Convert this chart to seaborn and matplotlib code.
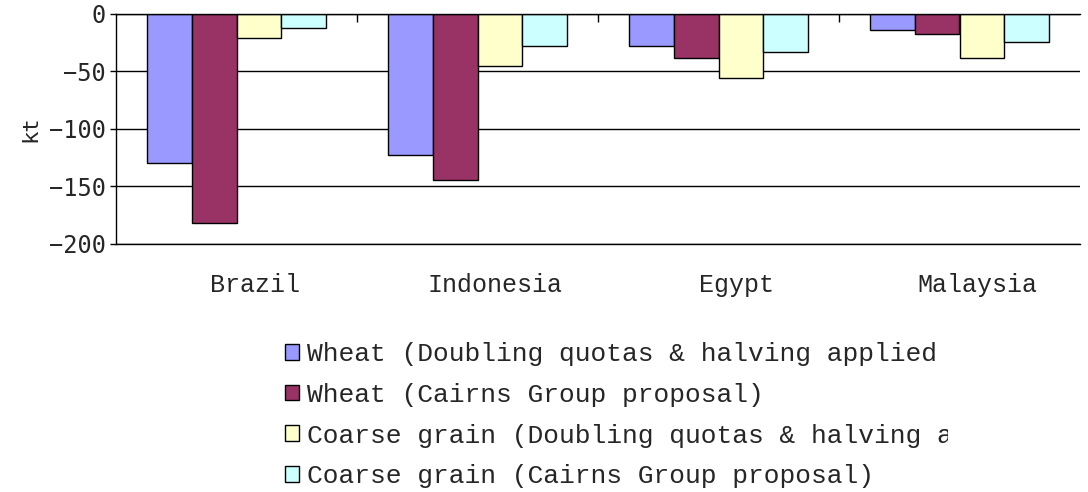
import matplotlib
matplotlib.use("Agg")
import matplotlib.pyplot as plt
import matplotlib.transforms as mtransforms
from matplotlib.ticker import FixedLocator
import seaborn as sns
import pandas as pd

# data (kt)
countries = ["Brazil", "Indonesia", "Egypt", "Malaysia"]
series = [
    "Wheat (Doubling quotas & halving applied tariffs)",
    "Wheat (Cairns Group proposal)",
    "Coarse grain (Doubling quotas & halving applied tariffs)",
    "Coarse grain (Cairns Group proposal)",
]
wheat_doubling = [-130, -123, -28, -14]
wheat_cairns = [-181.5, -144, -38.5, -17.5]
coarse_doubling = [-21, -45, -55.5, -38.5]
coarse_cairns = [-12.5, -28, -33, -24.5]
colors = ["#9999FF", "#993366", "#FFFFCC", "#CCFFFF"]

rows = []
for s, vals in zip(series, [wheat_doubling, wheat_cairns, coarse_doubling, coarse_cairns]):
    for c, v in zip(countries, vals):
        rows.append({"country": c, "series": s, "value": v})
df = pd.DataFrame(rows)

sns.set_style("white")
plt.rcParams["font.family"] = ["Liberation Mono", "DejaVu Sans Mono"]

fig = plt.figure(figsize=(10.88, 4.92), dpi=100)
ax = fig.add_axes([116 / 1088, 1 - 244 / 492, (1080 - 116) / 1088, (244 - 14) / 492])

sns.barplot(data=df, x="country", y="value", hue="series", order=countries,
            hue_order=series, palette=colors, width=0.74, edgecolor="black",
            linewidth=1, saturation=1, ax=ax)

ax.set_ylim(-200, 0)
ax.set_xlim(-0.5, 3.5)
ax.set_yticks([0, -50, -100, -150, -200])
ax.yaxis.grid(True, color="black", linewidth=1)
ax.set_axisbelow(True)
for side in ["top", "left", "bottom"]:
    ax.spines[side].set_visible(True)
    ax.spines[side].set_color("black")
    ax.spines[side].set_linewidth(1)
ax.spines["right"].set_visible(False)

ax.set_xlabel("")
ax.set_ylabel("kt", fontsize=16, family="DejaVu Sans Mono", labelpad=6)
ax.tick_params(axis="y", direction="out", length=4.5, width=1, color="black", pad=3,
               labelsize=17, left=True)
for t in ax.get_yticklabels():
    t.set_family("DejaVu Sans Mono")

# category labels below, boundary ticks hanging from the zero line
ax.tick_params(axis="x", which="major", length=0, pad=21, labelsize=18, bottom=True)
ax.xaxis.set_minor_locator(FixedLocator([0.5, 1.5, 2.5]))
ax.tick_params(axis="x", which="minor", top=True, bottom=False, direction="in",
               length=6, width=1, color="black")
offset = mtransforms.ScaledTranslation(18 / 100, 0, fig.dpi_scale_trans)
for t in ax.get_xticklabels():
    t.set_transform(t.get_transform() + offset)

handles, labels = ax.get_legend_handles_labels()
ax.get_legend().remove()
leg = fig.legend(handles, labels, loc="upper left",
                 bbox_to_anchor=(285 / 1088, 1 - 342 / 492), frameon=False,
                 fontsize=18.9, handlelength=0.54, handleheight=0.54,
                 handletextpad=0.3, labelspacing=0.64, borderpad=0,
                 borderaxespad=0)
# legend text is cut off at the chart's right edge, as in the original
clip = mtransforms.TransformedBbox(
    mtransforms.Bbox.from_extents(0, 0, 948 / 1088, 1), fig.transFigure)
for t in leg.get_texts():
    t.set_clip_on(True)
    t.set_clip_box(clip)

fig.savefig("out.png", dpi=100)
